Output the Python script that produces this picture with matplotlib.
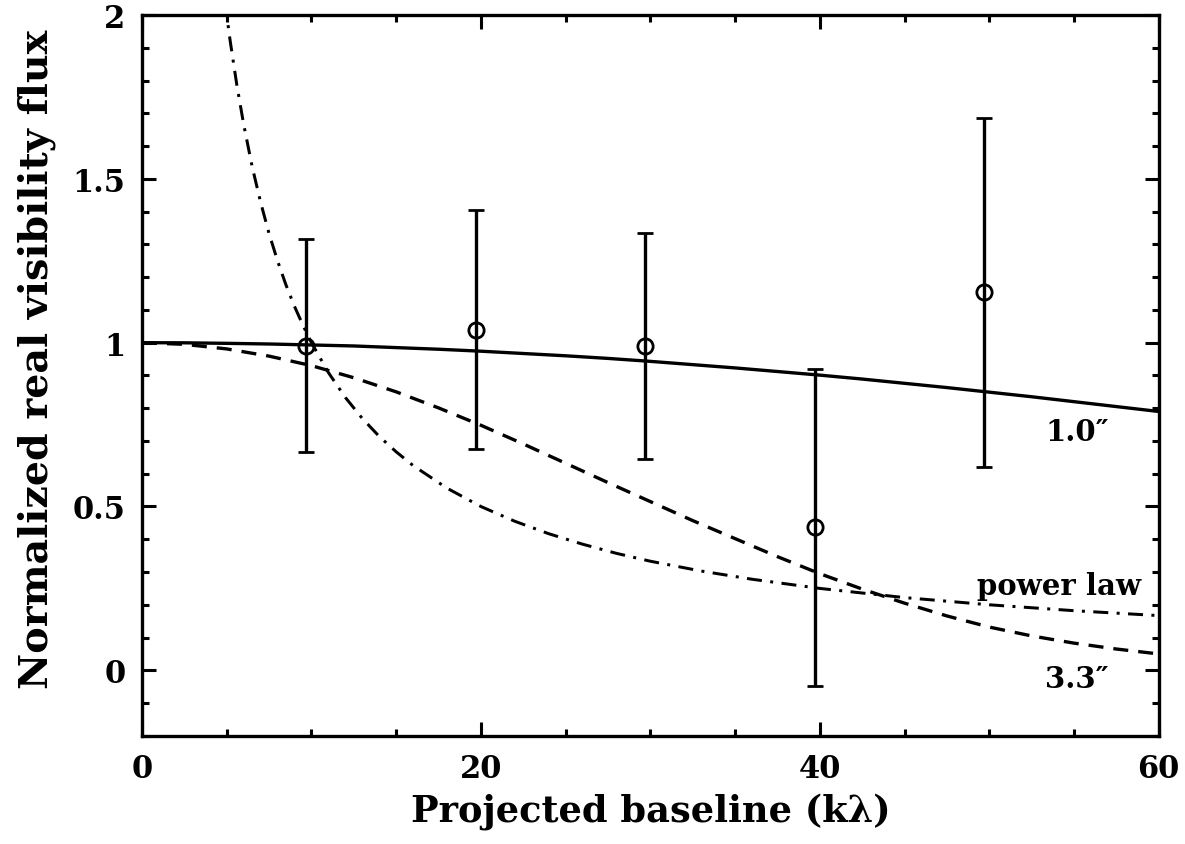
import matplotlib
matplotlib.use("Agg")
import matplotlib.pyplot as plt
from matplotlib.ticker import MultipleLocator, FuncFormatter

plt.rcParams['font.family'] = ['DejaVu Serif', 'DejaVu Sans']
plt.rcParams['font.weight'] = 'bold'
plt.rcParams['axes.labelweight'] = 'bold'

# measured visibilities
baseline = [9.7, 19.7, 29.7, 39.7, 49.7]
flux = [0.99, 1.04, 0.99, 0.436, 1.155]
err_lo = [0.325, 0.363, 0.344, 0.485, 0.533]
err_hi = [0.327, 0.365, 0.345, 0.485, 0.531]

# model curves
gauss_x = [0, 2.5, 5, 7.5, 10, 12.5, 15, 17.5, 20, 22.5, 25, 27.5, 30, 32.5, 35, 37.5,
           40, 42.5, 45, 47.5, 50, 52.5, 55, 57.5, 60]
gauss_10 = [1.0, 0.9996, 0.998, 0.996, 0.993, 0.990, 0.985, 0.980, 0.974, 0.967, 0.960,
            0.952, 0.943, 0.933, 0.923, 0.912, 0.901, 0.889, 0.876, 0.863, 0.849, 0.835,
            0.820, 0.805, 0.790]
gauss_33 = [1.0, 0.995, 0.981, 0.959, 0.930, 0.893, 0.850, 0.801, 0.748, 0.691, 0.632,
            0.573, 0.515, 0.457, 0.402, 0.347, 0.295, 0.248, 0.205, 0.166, 0.132, 0.105,
            0.083, 0.065, 0.050]

plaw_x = [4.9, 5.2, 5.6, 6, 6.5, 7, 7.5, 8, 8.5, 9, 9.5, 10, 11, 12, 13, 14, 15, 16, 18,
          20, 22, 24, 26, 28, 30, 33, 36, 40, 45, 50, 55, 60]
plaw_y = [2.04, 1.923, 1.786, 1.667, 1.538, 1.429, 1.333, 1.25, 1.176, 1.111, 1.053, 1.0,
          0.909, 0.833, 0.769, 0.714, 0.667, 0.625, 0.556, 0.5, 0.455, 0.417, 0.385, 0.357,
          0.333, 0.303, 0.278, 0.25, 0.222, 0.2, 0.182, 0.167]

fig = plt.figure(figsize=(11.85, 8.45), dpi=100)
ax = fig.add_axes([0.1198, 0.128, 0.858, 0.853])

lw = 2.4
ax.plot(gauss_x, gauss_10, color='black', lw=lw)
ax.plot(gauss_x, gauss_33, color='black', lw=lw, linestyle=(0, (4.5, 3)))
ax.plot(plaw_x, plaw_y, color='black', lw=lw * 0.9, linestyle=(0, (5, 2.8, 1, 2.8)))

ax.errorbar(baseline, flux, yerr=[err_lo, err_hi], fmt='o', color='black',
            mfc='none', mec='black', ms=11, mew=2.0, elinewidth=lw,
            capsize=5.5, capthick=lw)

ax.text(53.3, 0.73, '1.0\u2033', fontsize=21, va='center', ha='left')
ax.text(49.3, 0.26, 'power law', fontsize=21, va='center', ha='left')
ax.text(53.3, -0.025, '3.3\u2033', fontsize=21, va='center', ha='left')

ax.set_xlim(0, 60)
ax.set_ylim(-0.2, 2)
ax.xaxis.set_major_locator(MultipleLocator(20))
ax.xaxis.set_minor_locator(MultipleLocator(5))
ax.yaxis.set_major_locator(MultipleLocator(0.5))
ax.yaxis.set_minor_locator(MultipleLocator(0.1))
ax.yaxis.set_major_formatter(FuncFormatter(lambda v, p: '%g' % v))
ax.xaxis.set_major_formatter(FuncFormatter(lambda v, p: '%g' % v))

ax.tick_params(which='both', direction='in', top=True, right=True, width=2.2,
               labelsize=22, pad=12)
ax.tick_params(which='major', length=10)
ax.tick_params(which='minor', length=5)
for s in ax.spines.values():
    s.set_linewidth(2.4)

ax.set_xlabel('Projected baseline (k\u03bb)', fontsize=26.5, labelpad=6)
ax.set_ylabel('Normalized real visibility flux', fontsize=28.5, labelpad=12, y=0.523)

fig.savefig('out.png', dpi=100)
